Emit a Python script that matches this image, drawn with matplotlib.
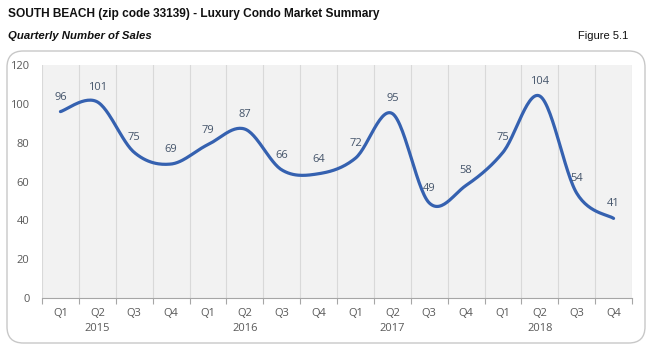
import numpy as np
import matplotlib
matplotlib.use('Agg')
from matplotlib import pyplot as plt
from matplotlib import font_manager
from matplotlib.patches import FancyBboxPatch
from matplotlib.transforms import blended_transform_factory

quarters = ['Q1', 'Q2', 'Q3', 'Q4'] * 4
years = ['2015', '2016', '2017', '2018']
sales = [96, 101, 75, 69, 79, 87, 66, 64, 72, 95, 49, 58, 75, 104, 54, 41]

names = {f.name for f in font_manager.fontManager.ttflist}
narrow = 'Liberation Sans Narrow' if 'Liberation Sans Narrow' in names else 'Liberation Sans'
body = 'Open Sans'

# smooth line like Excel (Bezier through points, Catmull-Rom control points)
def smooth(x, y, n=30):
    x = np.asarray(x, float)
    y = np.asarray(y, float)
    px = np.concatenate([[x[0]], x, [x[-1]]])
    py = np.concatenate([[y[0]], y, [y[-1]]])
    xs, ys = [], []
    t = np.linspace(0, 1, n)
    for i in range(1, len(px) - 2):
        p0 = np.array([px[i], py[i]])
        p3 = np.array([px[i + 1], py[i + 1]])
        c1 = p0 + (np.array([px[i + 1], py[i + 1]]) - np.array([px[i - 1], py[i - 1]])) / 6
        c2 = p3 - (np.array([px[i + 2], py[i + 2]]) - np.array([px[i], py[i]])) / 6
        b = ((1 - t) ** 3)[:, None] * p0 + (3 * (1 - t) ** 2 * t)[:, None] * c1 \
            + (3 * (1 - t) * t ** 2)[:, None] * c2 + (t ** 3)[:, None] * p3
        xs.append(b[:, 0])
        ys.append(b[:, 1])
    return np.concatenate(xs), np.concatenate(ys)

W, H = 651, 352
fig = plt.figure(figsize=(W / 100, H / 100), dpi=100)
fig.patch.set_facecolor('white')

fig.text(8 / W, 1 - 14 / H, 'SOUTH BEACH (zip code 33139) - Luxury Condo Market Summary',
         family=narrow, weight='bold', fontsize=8.6, color='#111111', va='center', ha='left')
fig.text(8 / W, 1 - 36 / H, 'Quarterly Number of Sales', family=narrow, weight='bold',
         style='italic', fontsize=8.2, color='#111111', va='center', ha='left')
fig.text(628 / W, 1 - 36 / H, 'Figure 5.1', family=narrow, fontsize=8, color='#111111',
         va='center', ha='right')

box = FancyBboxPatch((7 / W, 9 / H), 638 / W, 292 / H, boxstyle='round,pad=0,rounding_size=0.025',
                     transform=fig.transFigure, facecolor='white', edgecolor='#c8c8c8', lw=1.0,
                     mutation_aspect=W / H, zorder=-10)
fig.patches.append(box)

ax = fig.add_axes([42 / W, (H - 298) / H, 590 / W, 233 / H])
ax.set_facecolor('#f2f2f2')
n = len(sales)
xc = np.arange(n) + 0.5
for b in range(n + 1):
    ax.axvline(b, color='#d9d9d9', lw=0.8, zorder=1)

sx, sy = smooth(xc, sales)
ax.plot(sx, sy, color='#3561b0', lw=2.3, solid_capstyle='round', zorder=3)

for x, v in zip(xc, sales):
    ax.annotate(str(v), (x, v), xytext=(0, 10.5), textcoords='offset points', ha='center',
                va='center', fontsize=8, color='#44546a', family=body, zorder=4)

ax.set_xlim(0, n)
ax.set_ylim(0, 120)
ax.set_yticks(range(0, 121, 20))
ax.tick_params(axis='y', length=0, labelsize=8, labelcolor='#595959', pad=9)
for lab in ax.get_yticklabels():
    lab.set_family(body)

ax.set_xticks(range(n + 1))
ax.set_xticklabels([])
ax.tick_params(axis='x', which='major', length=4, color='#a6a6a6', width=0.8)
ax.set_xticks(xc, minor=True)
ax.set_xticklabels(quarters, minor=True, fontsize=8, color='#595959', family=body)
ax.tick_params(axis='x', which='minor', length=0, pad=7)

trans = blended_transform_factory(ax.transData, ax.transAxes)
for i, yr in enumerate(years):
    ax.text(i * 4 + 1.5, -0.13, yr, transform=trans, ha='center', va='center',
            fontsize=8, color='#595959', family=body)

for s in ['top', 'right', 'left']:
    ax.spines[s].set_visible(False)
ax.spines['bottom'].set_color('#a6a6a6')
ax.spines['bottom'].set_linewidth(0.8)

fig.savefig('out.png', dpi=100)
